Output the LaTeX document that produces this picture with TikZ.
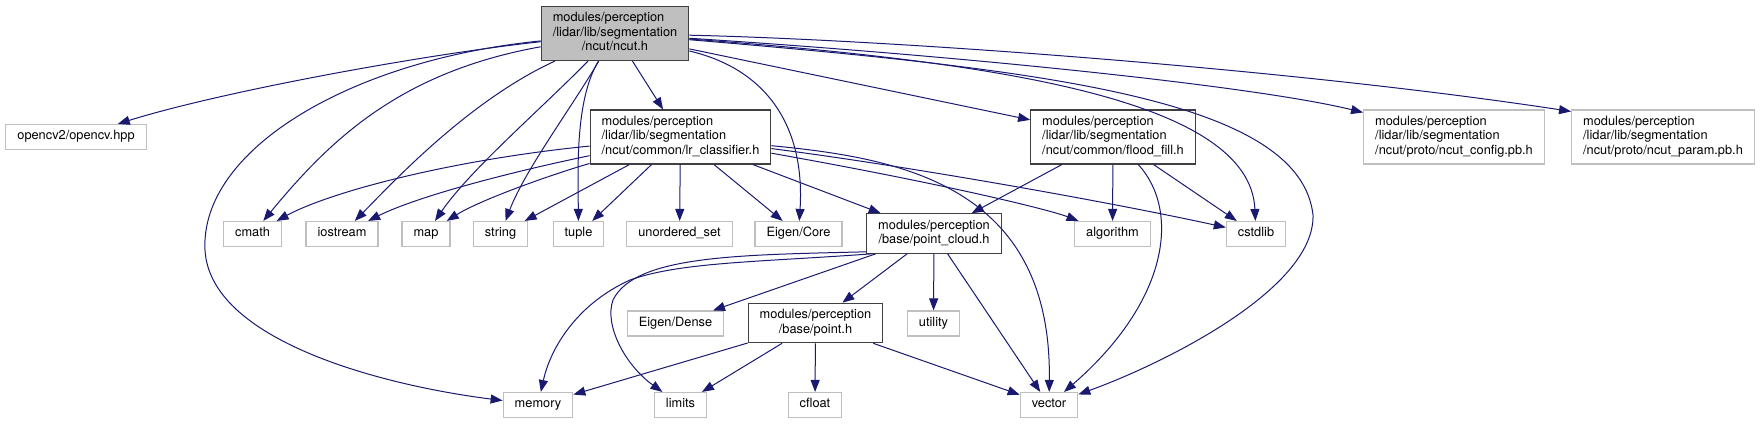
\documentclass[tikz,border=0pt]{standalone}
\usepackage{fontspec}
\setmainfont{TeX Gyre Heros}
\usetikzlibrary{arrows.meta}
\definecolor{edgeblue}{HTML}{191970}
\definecolor{boxgrey}{HTML}{BFBFBF}
\definecolor{boxdark}{HTML}{404040}
\newcommand{\Lthree}[3]{\begin{tabular}{@{}l@{}}#1\\#2\\\multicolumn{1}{@{}c@{}}{#3}\end{tabular}}
\newcommand{\Ltwo}[2]{\begin{tabular}{@{}l@{}}#1\\\multicolumn{1}{@{}c@{}}{#2}\end{tabular}}
\newcommand{\Lone}[1]{\strut #1}
\begin{document}
\begin{tikzpicture}[x=1pt,y=-1pt,
  base/.style={rectangle, inner xsep=11.5pt, inner ysep=5.2pt,
    font=\fontsize{12.8}{14.5}\selectfont, line width=1.2pt},
  sysbox/.style={base, draw=boxgrey},
  docbox/.style={base, draw=boxdark},
  mainbox/.style={base, draw=boxdark, fill=boxgrey},
  edge/.style={draw=edgeblue, line width=1pt, -{Triangle[length=12pt,width=9pt]}}
]
\useasboundingbox (0,0) rectangle (1761,424);

% nodes
\node[mainbox] (main) at (615,33.5) {\Lthree{modules/perception}{/lidar/lib/segmentation}{/ncut/ncut.h}};
\node[sysbox] (opencv) at (76,137) {\Lone{opencv2/opencv.hpp}};
\node[docbox] (lr) at (680.5,137) {\Lthree{modules/perception}{/lidar/lib/segmentation}{/ncut/common/lr\_classifier.h}};
\node[docbox] (flood) at (1113,137) {\Lthree{modules/perception}{/lidar/lib/segmentation}{/ncut/common/flood\_fill.h}};
\node[sysbox] (config) at (1454,137) {\Lthree{modules/perception}{/lidar/lib/segmentation}{/ncut/proto/ncut\_config.pb.h}};
\node[sysbox] (param) at (1663,137) {\Lthree{modules/perception}{/lidar/lib/segmentation}{/ncut/proto/ncut\_param.pb.h}};

\node[sysbox] (cmath) at (252.5,234) {\Lone{cmath}};
\node[sysbox] (iostream) at (342,234) {\Lone{iostream}};
\node[sysbox] (map) at (426,234) {\Lone{map}};
\node[sysbox] (string) at (500.5,234) {\Lone{string}};
\node[sysbox] (tuple) at (578.5,234) {\Lone{tuple}};
\node[sysbox] (uset) at (679.5,234) {\Lone{unordered\_set}};
\node[sysbox] (ecore) at (798.5,234) {\Lone{Eigen/Core}};
\node[docbox] (pc) at (934,233.5) {\Ltwo{modules/perception}{/base/point\_cloud.h}};
\node[sysbox] (algo) at (1112.5,234) {\Lone{algorithm}};
\node[sysbox] (cstdlib) at (1256,234) {\Lone{cstdlib}};

\node[sysbox] (edense) at (675.5,323.5) {\Lone{Eigen/Dense}};
\node[docbox] (pointh) at (815.5,323) {\Ltwo{modules/perception}{/base/point.h}};
\node[sysbox] (utility) at (933.5,323.5) {\Lone{utility}};

\node[sysbox] (memory) at (538,405) {\Lone{memory}};
\node[sysbox] (limits) at (680.5,405) {\Lone{limits}};
\node[sysbox] (cfloat) at (815,405) {\Lone{cfloat}};
\node[sysbox] (vector) at (1049,405) {\Lone{vector}};

% edges from ncut.h
\draw[edge] (main) .. controls (420,55) and (220,92) .. (opencv);
\draw[edge] (main) .. controls (400,72) and (330,140) .. (cmath);
\draw[edge] (main) .. controls (350,60) and (200,150) .. (205,250) .. controls (210,340) and (380,385) .. (memory);
\draw[edge] (main) .. controls (470,100) and (395,180) .. (iostream);
\draw[edge] (main) .. controls (540,110) and (470,170) .. (map);
\draw[edge] (main) .. controls (570,110) and (525,170) .. (string);
\draw[edge] (main) .. controls (575,100) and (578,170) .. (tuple);
\draw[edge] (main) -- (lr);
\draw[edge] (main) .. controls (770,70) and (805,130) .. (ecore);
\draw[edge] (main) -- (flood);
\draw[edge] (main) .. controls (950,55) and (1250,85) .. ([yshift=-3pt]config.north west);
\draw[edge] (main) .. controls (900,40) and (1300,70) .. ([yshift=-2pt]param.north west);
\draw[edge] (main) .. controls (1000,62) and (1250,100) .. (cstdlib);
\draw[edge] (main) .. controls (1050,70) and (1300,100) .. (1313,215) .. controls (1315,290) and (1160,365) .. (vector);

% edges from lr_classifier.h
\draw[edge] (lr) .. controls (450,160) and (330,192) .. (cmath);
\draw[edge] (lr) .. controls (520,170) and (420,195) .. (iostream);
\draw[edge] (lr) .. controls (550,175) and (480,200) .. (map);
\draw[edge] (lr) -- (string);
\draw[edge] (lr) -- (tuple);
\draw[edge] (lr) -- (uset);
\draw[edge] (lr) -- (ecore);
\draw[edge] (lr) -- (pc);
\draw[edge] (lr) .. controls (950,185) and (1050,210) .. (algo);
\draw[edge] (lr) .. controls (900,165) and (1100,200) .. (cstdlib);
\draw[edge] (lr) .. controls (900,158) and (1052,185) .. (vector);

% edges from flood_fill.h
\draw[edge] (flood) -- (pc);
\draw[edge] (flood) -- (algo);
\draw[edge] (flood) .. controls (1180,210) and (1170,300) .. (vector);
\draw[edge] (flood) -- (cstdlib);

% edges from point_cloud.h
\draw[edge] ([yshift=2pt]pc.south west) .. controls (740,255) and (635,255) .. (613,300) .. controls (604,325) and (625,365) .. (limits);
\draw[edge] ([xshift=6pt]pc.south west) .. controls (760,262) and (680,262) .. (630,280) .. controls (575,305) and (550,350) .. (memory);
\draw[edge] (pc) -- (edense);
\draw[edge] (pc) -- (pointh);
\draw[edge] (pc) -- (utility);
\draw[edge] (pc) -- (vector);

% edges from point.h
\draw[edge] (pointh) -- (memory);
\draw[edge] (pointh) -- (limits);
\draw[edge] (pointh) -- (cfloat);
\draw[edge] (pointh) -- (vector);
\end{tikzpicture}
\end{document}
